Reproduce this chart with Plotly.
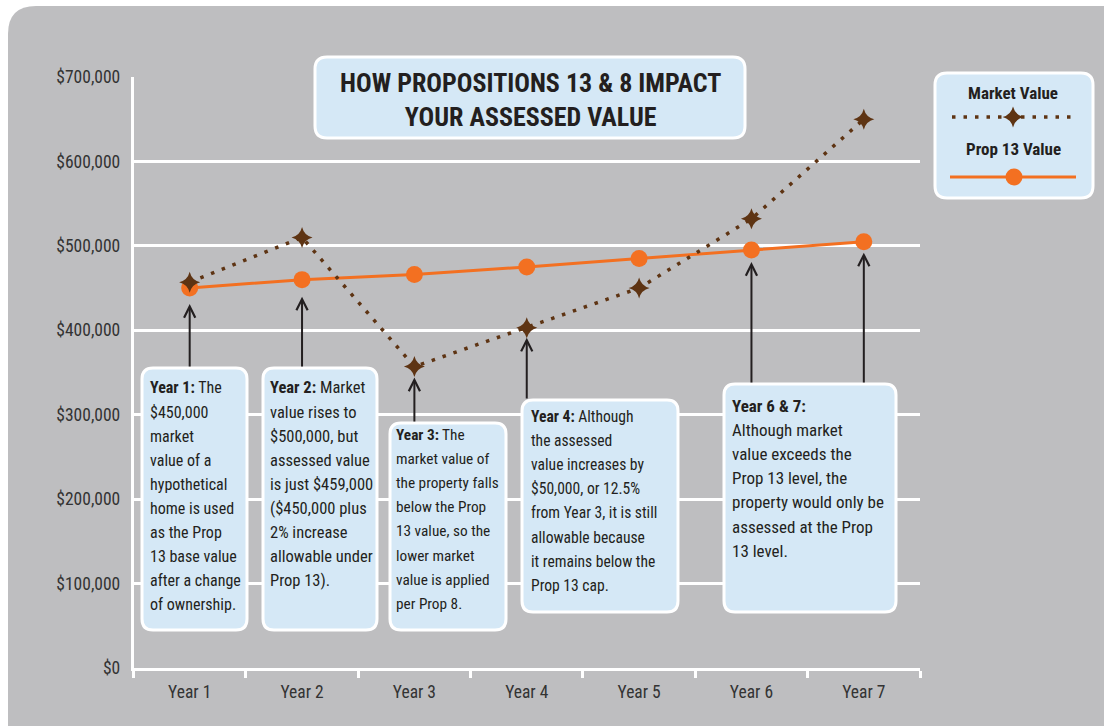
import plotly.graph_objects as go

W, H = 1104, 726

# ---------------- data ----------------
years = ["Year 1", "Year 2", "Year 3", "Year 4", "Year 5", "Year 6", "Year 7"]
market_value = [457000, 510000, 357000, 403000, 450000, 532000, 650000]
prop13_value = [450000, 460000, 466000, 475000, 485000, 495000, 505000]
y_tick_values = [0, 100000, 200000, 300000, 400000, 500000, 600000, 700000]
y_tick_labels = ["$0", "$100,000", "$200,000", "$300,000", "$400,000",
                 "$500,000", "$600,000", "$700,000"]
title_text = "HOW PROPOSITIONS 13 & 8 IMPACT<br>YOUR ASSESSED VALUE"
legend_names = ["Market Value", "Prop 13 Value"]

box1_lines = ["<b>Year 1:</b> The", "$450,000", "market", "value of a", "hypothetical",
              "home is used", "as the Prop", "13 base value", "after a change", "of ownership."]
box2_lines = ["<b>Year 2:</b> Market", "value rises to", "$500,000, but", "assessed value",
              "is just $459,000", "($450,000 plus", "2% increase", "allowable under", "Prop 13)."]
box3_lines = ["<b>Year 3:</b> The", "market value of", "the property falls", "below the Prop",
              "13 value, so the", "lower market", "value is applied", "per Prop 8."]
box4_lines = ["<b>Year 4:</b> Although", "the assessed", "value increases by", "$50,000, or 12.5%",
              "from Year 3, it is still", "allowable because", "it remains below the", "Prop 13 cap."]
box67_lines = ["<b>Year 6 & 7:</b>", "Although market", "value exceeds the", "Prop 13 level, the",
               "property would only be", "assessed at the Prop", "13 level."]

# ---------------- style ----------------
FONT = "Liberation Sans Narrow, Roboto Condensed, Roboto, sans-serif"
TXT = "#231F20"
PANEL = "#BEBEC0"
BOXFILL = "#D5E8F6"
BROWN = "#5E3413"
ORANGE = "#F37021"

PLOT_L, PLOT_R, PLOT_T, PLOT_B = 133.5, 920, 77, 668
Y_MAX = 700000


def px(x):
    return x / W


def py(y):
    return 1 - y / H


def rrect(x0, y0, x1, y1, r):
    return (f"M{px(x0 + r)},{py(y0)} L{px(x1 - r)},{py(y0)} Q{px(x1)},{py(y0)} {px(x1)},{py(y0 + r)} "
            f"L{px(x1)},{py(y1 - r)} Q{px(x1)},{py(y1)} {px(x1 - r)},{py(y1)} "
            f"L{px(x0 + r)},{py(y1)} Q{px(x0)},{py(y1)} {px(x0)},{py(y1 - r)} "
            f"L{px(x0)},{py(y0 + r)} Q{px(x0)},{py(y0)} {px(x0 + r)},{py(y0)} Z")


def val_to_px(v):
    return PLOT_B - v / Y_MAX * (PLOT_B - PLOT_T)


fig = go.Figure()

fig.add_trace(go.Scatter(
    x=years, y=prop13_value, mode="lines+markers", name=legend_names[1],
    line=dict(color=ORANGE, width=3),
    marker=dict(color=ORANGE, size=17, symbol="circle"),
    showlegend=False, cliponaxis=False))
fig.add_trace(go.Scatter(
    x=years, y=market_value, mode="lines+markers", name=legend_names[0],
    line=dict(color=BROWN, width=3.5, dash="3.5px,8px"),
    marker=dict(color=BROWN, size=15, symbol="star-diamond"),
    showlegend=False, cliponaxis=False))

# legend glyph samples (on a hidden pixel-scaled overlay axis)
fig.add_trace(go.Scatter(x=[952, 1075], y=[117, 117], mode="lines", xaxis="x2", yaxis="y2",
                         line=dict(color=BROWN, width=3.5, dash="3.5px,8px"),
                         showlegend=False, hoverinfo="skip"))
fig.add_trace(go.Scatter(x=[1013], y=[117], mode="markers", xaxis="x2", yaxis="y2",
                         marker=dict(color=BROWN, size=15, symbol="star-diamond"),
                         showlegend=False, hoverinfo="skip"))
fig.add_trace(go.Scatter(x=[950, 1076], y=[177, 177], mode="lines", xaxis="x2", yaxis="y2",
                         line=dict(color=ORANGE, width=3),
                         showlegend=False, hoverinfo="skip"))
fig.add_trace(go.Scatter(x=[1014], y=[177], mode="markers", xaxis="x2", yaxis="y2",
                         marker=dict(color=ORANGE, size=17),
                         showlegend=False, hoverinfo="skip"))

shapes = [
    dict(type="path", path=rrect(8, 6, 1140, 780, 28), xref="paper", yref="paper",
         fillcolor=PANEL, line=dict(width=0), layer="below"),
    dict(type="path", path=rrect(935, 73, 1093, 198, 12), xref="paper", yref="paper",
         fillcolor=BOXFILL, line=dict(color="white", width=3), layer="below"),
    dict(type="path", path=rrect(315, 57, 745, 138, 12), xref="paper", yref="paper",
         fillcolor=BOXFILL, line=dict(color="white", width=3), layer="above"),
]

boxes = [
    (142, 368, 247, 630, 148, 388, box1_lines, 16),
    (263, 368, 377, 630, 268, 388, box2_lines, 16.5),
    (390, 423, 506, 630, 394, 435, box3_lines, 15.3),
    (522, 400, 678, 612, 529, 417, box4_lines, 15.6),
    (724, 384, 896, 612, 730, 406, box67_lines, 17),
]
annotations = []
for x0, y0, x1, y1, tx, ty, lines, fs in boxes:
    shapes.append(dict(type="path", path=rrect(x0, y0, x1, y1, 11), xref="paper", yref="paper",
                       fillcolor=BOXFILL, line=dict(color="white", width=3), layer="above"))
    for i, ln in enumerate(lines):
        annotations.append(dict(text=ln, x=px(tx), y=py(ty + i * 24.1), xref="paper", yref="paper",
                                xanchor="left", yanchor="middle", showarrow=False,
                                font=dict(family=FONT, size=fs, color=TXT)))

# title and legend labels
annotations.append(dict(text="<b>" + title_text + "</b>", x=px(530), y=py(100), xref="paper", yref="paper",
                        xanchor="center", yanchor="middle", showarrow=False,
                        font=dict(family=FONT, size=26, color=TXT)))
annotations.append(dict(text="<b>" + legend_names[0] + "</b>", x=px(1013), y=py(93), xref="paper",
                        yref="paper", xanchor="center", yanchor="middle", showarrow=False,
                        font=dict(family=FONT, size=17, color=TXT)))
annotations.append(dict(text="<b>" + legend_names[1] + "</b>", x=px(1013), y=py(149), xref="paper",
                        yref="paper", xanchor="center", yanchor="middle", showarrow=False,
                        font=dict(family=FONT, size=17, color=TXT)))

# arrows: (category index, series, tail pixel y, standoff)
arrows = [(0, prop13_value, 368, 16), (1, prop13_value, 368, 17), (2, market_value, 423, 11),
          (3, market_value, 400, 10), (5, prop13_value, 384, 12), (6, prop13_value, 384, 11)]
for idx, series, tail, so in arrows:
    v = series[idx]
    annotations.append(dict(text="", x=years[idx], y=v, xref="x", yref="y", showarrow=True,
                            ax=0, ay=tail - val_to_px(v), arrowhead=5, arrowsize=1.1,
                            arrowwidth=2, arrowcolor=TXT, standoff=so))

fig.update_layout(
    width=W, height=H, template="none",
    margin=dict(l=0, r=0, t=0, b=0),
    paper_bgcolor="white", plot_bgcolor="rgba(0,0,0,0)",
    showlegend=False,
    font=dict(family=FONT, color="#333333"),
    xaxis=dict(domain=[PLOT_L / W, PLOT_R / W], type="category", categoryarray=years,
               range=[-0.5, 6.5], showline=True, linecolor="white", linewidth=2.5,
               ticks="outside", tickson="boundaries", ticklen=7, tickwidth=2.5, tickcolor="white",
               showgrid=False, zeroline=False, automargin=False, ticklabelstandoff=6,
               tickfont=dict(family=FONT, size=17.5, color="#333333")),
    yaxis=dict(domain=[1 - PLOT_B / H, 1 - PLOT_T / H], range=[0, Y_MAX],
               tickvals=y_tick_values, ticktext=y_tick_labels,
               showline=True, linecolor="white", linewidth=2.5,
               showgrid=True, gridcolor="white", gridwidth=2.5, zeroline=False,
               ticks="", automargin=False, ticklabelstandoff=7,
               tickfont=dict(family=FONT, size=17.5, color="#333333")),
    xaxis2=dict(domain=[0, 1], range=[0, W], visible=False, anchor="y2", fixedrange=True),
    yaxis2=dict(domain=[0, 1], range=[H, 0], visible=False, anchor="x2", fixedrange=True),
    shapes=shapes,
    annotations=annotations,
)

fig.write_html("out.html", config={"displayModeBar": False},
               post_script="document.body.style.margin='0';document.body.style.overflow='hidden';")
